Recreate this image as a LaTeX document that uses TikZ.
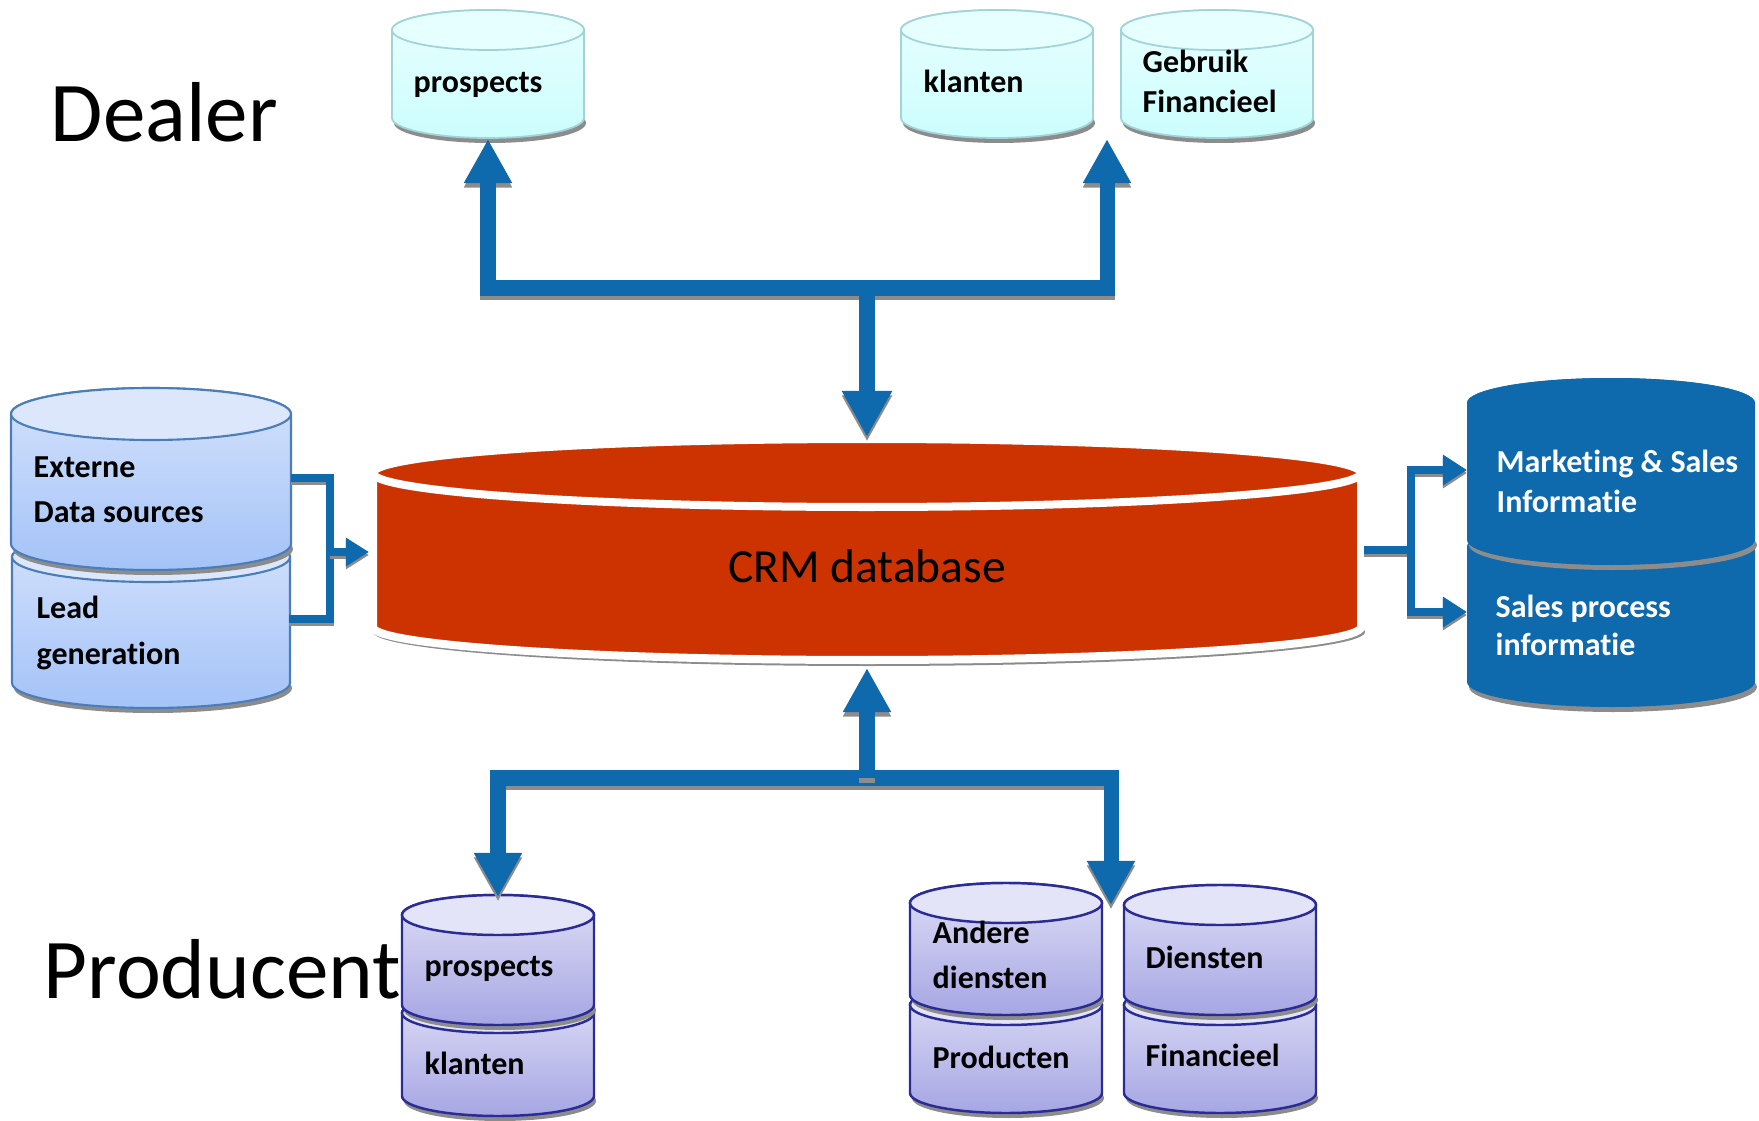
\documentclass[tikz,border=0pt]{standalone}
\usepackage{fontspec}
\setmainfont{Carlito}[Ligatures=NoCommon,RawFeature={-calt,-clig,-dlig}]
\usetikzlibrary{arrows.meta}
\definecolor{abl}{HTML}{0E69AD}
\definecolor{crmred}{HTML}{CC3300}
\definecolor{cyTop}{HTML}{E6FFFF}
\definecolor{cyA}{HTML}{E8FFFF}
\definecolor{cyB}{HTML}{CCFDFD}
\definecolor{cyLine}{HTML}{A2D3D8}
\definecolor{lbTop}{HTML}{DCE7FC}
\definecolor{lbA}{HTML}{D4E2FC}
\definecolor{lbB}{HTML}{A4C3F8}
\definecolor{lbLine}{HTML}{4A7DBA}
\definecolor{puTop}{HTML}{E4E4F8}
\definecolor{puA}{HTML}{DEDEF6}
\definecolor{puB}{HTML}{A6A6E4}
\definecolor{puLine}{HTML}{2B2B96}
\definecolor{shad}{HTML}{8C8C8C}
\newcommand\dbcyl[7]{%
  \fill[shad] (#1+2,-#3-5) ellipse[x radius=#4, y radius=#5];
  \path[#6] (#1-#4,-#2) -- (#1-#4,-#3) arc[start angle=180,end angle=360,x radius=#4,y radius=#5] -- (#1+#4,-#2) arc[start angle=0,end angle=180,x radius=#4,y radius=#5] -- cycle;
  \path[#7] (#1,-#2) ellipse[x radius=#4, y radius=#5];
}
\begin{document}
\begin{tikzpicture}[x=0.01cm,y=0.01cm,line join=miter,
  cyBody/.style={draw=cyLine, line width=0.5pt, top color=cyA, bottom color=cyB},
  cyEnd/.style={draw=cyLine, line width=0.5pt, fill=cyTop},
  lbBody/.style={draw=lbLine, line width=0.6pt, top color=lbA, bottom color=lbB},
  lbEnd/.style={draw=lbLine, line width=0.6pt, fill=lbTop},
  puBody/.style={draw=puLine, line width=0.7pt, top color=puA, bottom color=puB},
  puEnd/.style={draw=puLine, line width=0.7pt, fill=puTop},
  dkBody/.style={fill=abl},
  dkEnd/.style={fill=abl},
  bigconn/.style={draw=abl, line width=0.15cm,
    preaction={draw=shad, line width=0.15cm, transform canvas={yshift=-0.045cm}}},
  smallconn/.style={draw=abl, line width=0.075cm,
    preaction={draw=shad, line width=0.075cm, transform canvas={yshift=-0.03cm}}},
  lbl/.style={anchor=base west, inner sep=0pt, font=\fontsize{9.1pt}{11pt}\selectfont\bfseries},
  wlbl/.style={lbl, text=white},
  title/.style={anchor=base west, inner sep=0pt, font=\fontsize{24.2pt}{29pt}\selectfont}
]
\useasboundingbox (0,0) rectangle (1759,-1121);

% ---------------- Dealer cylinders
\dbcyl{488}{30}{118}{96}{20}{cyBody}{cyEnd}
\dbcyl{997}{30}{118}{96}{20}{cyBody}{cyEnd}
\dbcyl{1217}{30}{118}{96}{20}{cyBody}{cyEnd}
\node[lbl] (dprosp) at (413,-93) {prospects};
\node[lbl] (dklant) at (923,-92) {klanten};
\node[lbl] (dgeb1) at (1142,-73) {Gebruik};
\node[lbl] (dgeb2) at (1142,-112) {Financieel};

% ---------------- Left stack
\dbcyl{151}{557}{683}{139}{25}{lbBody}{lbEnd}
\dbcyl{151}{414}{544}{140}{26}{lbBody}{lbEnd}
\node[lbl] (ext1) at (33,-477) {Externe};
\node[lbl] (ext2) at (33,-522) {Data sources};
\node[lbl] (lead1) at (36,-618) {Lead};
\node[lbl] (lead2) at (36,-664) {generation};

% ---------------- Right stack
\dbcyl{1611}{547}{682}{144}{25}{dkBody}{dkEnd}
\dbcyl{1611}{403}{540}{144}{25}{dkBody}{dkEnd}
\node[wlbl] (mkt1) at (1496,-472) {Marketing \& Sales};
\node[wlbl] (mkt2) at (1496,-512) {Informatie};
\node[wlbl] (sal1) at (1495,-617) {Sales process};
\node[wlbl] (sal2) at (1495,-655) {informatie};

% ---------------- Producent cylinders
\dbcyl{498}{1013}{1096}{96}{20}{puBody}{puEnd}
\dbcyl{498}{915}{1005}{96}{20}{puBody}{puEnd}
\dbcyl{1006}{1005}{1093}{96}{20}{puBody}{puEnd}
\dbcyl{1006}{903}{995}{96}{20}{puBody}{puEnd}
\dbcyl{1220}{1005}{1093}{96}{20}{puBody}{puEnd}
\dbcyl{1220}{905}{995}{96}{20}{puBody}{puEnd}
\node[lbl] (pprosp) at (424,-976) {prospects};
\node[lbl] (pklant) at (424,-1074) {klanten};
\node[lbl] (pand1) at (932,-943) {Andere};
\node[lbl] (pand2) at (932,-988) {diensten};
\node[lbl] (pprod) at (932,-1068) {Producten};
\node[lbl] (pdien) at (1145,-968) {Diensten};
\node[lbl] (pfin) at (1145,-1066) {Financieel};

% ---------------- CRM database
\fill[shad] (869,-632) ellipse[x radius=496, y radius=34];
\path[fill=crmred, draw=white, line width=0.08cm] (373,-473) -- (373,-627) arc[start angle=180,end angle=360,x radius=494,y radius=33] -- (1361,-473) arc[start angle=0,end angle=180,x radius=494,y radius=34] -- cycle;
\path[fill=crmred, draw=white, line width=0.08cm] (867,-473) ellipse[x radius=494, y radius=34];
\node[anchor=base, inner sep=0pt, font=\fontsize{13.5pt}{16pt}\selectfont] (crm) at (867,-582) {CRM database};

% ---------------- Titles
\node[title] (dealer) at (50,-142) {Dealer};
\node[title] (producent) at (43,-998) {Producent};

% ---------------- Connector points
\coordinate (dPb) at (488,-139);
\coordinate (dGb) at (1107,-139);
\coordinate (tL) at (488,-288);
\coordinate (tR) at (1107,-288);
\coordinate (tM) at (867,-288);
\coordinate (crmT) at (867,-437);
\coordinate (crmB) at (867,-668);
\coordinate (bM) at (867,-778);
\coordinate (bL) at (498,-778);
\coordinate (bR) at (1111,-778);
\coordinate (pPt) at (498,-897);
\coordinate (pDt) at (1111,-905);
\coordinate (extR) at (291,-478);
\coordinate (leadR) at (289,-619);
\coordinate (lT) at (330,-478);
\coordinate (lB) at (330,-619);
\coordinate (lM) at (330,-552);
\coordinate (crmL) at (369,-552);
\coordinate (crmR) at (1364,-550);
\coordinate (rM) at (1411,-550);
\coordinate (rT) at (1411,-470);
\coordinate (rB) at (1411,-612);
\coordinate (mktL) at (1467,-470);
\coordinate (salL) at (1467,-612);

% ---------------- Connectors
\draw[bigconn, {Triangle[width=0.45cm,length=0.44cm]}-{Triangle[width=0.45cm,length=0.44cm]}] (dPb) -- (tL) -- (tR) -- (dGb);
\draw[bigconn, -{Triangle[width=0.47cm,length=0.46cm]}] (tM) -- (crmT);
\draw[bigconn, {Triangle[width=0.45cm,length=0.44cm]}-{Triangle[width=0.45cm,length=0.44cm]}] (pPt) -- (bL) -- (bR) -- (pDt);
\draw[bigconn, -{Triangle[width=0.45cm,length=0.44cm]}] (bM) -- (crmB);
\draw[smallconn] (extR) -- (lT) -- (lB) -- (leadR);
\draw[smallconn, -{Triangle[width=0.27cm,length=0.23cm]}] (lM) -- (crmL);
\draw[smallconn] (crmR) -- (rM);
\draw[smallconn, {Triangle[width=0.29cm,length=0.24cm]}-{Triangle[width=0.29cm,length=0.24cm]}] (mktL) -- (rT) -- (rB) -- (salL);
\end{tikzpicture}
\end{document}
